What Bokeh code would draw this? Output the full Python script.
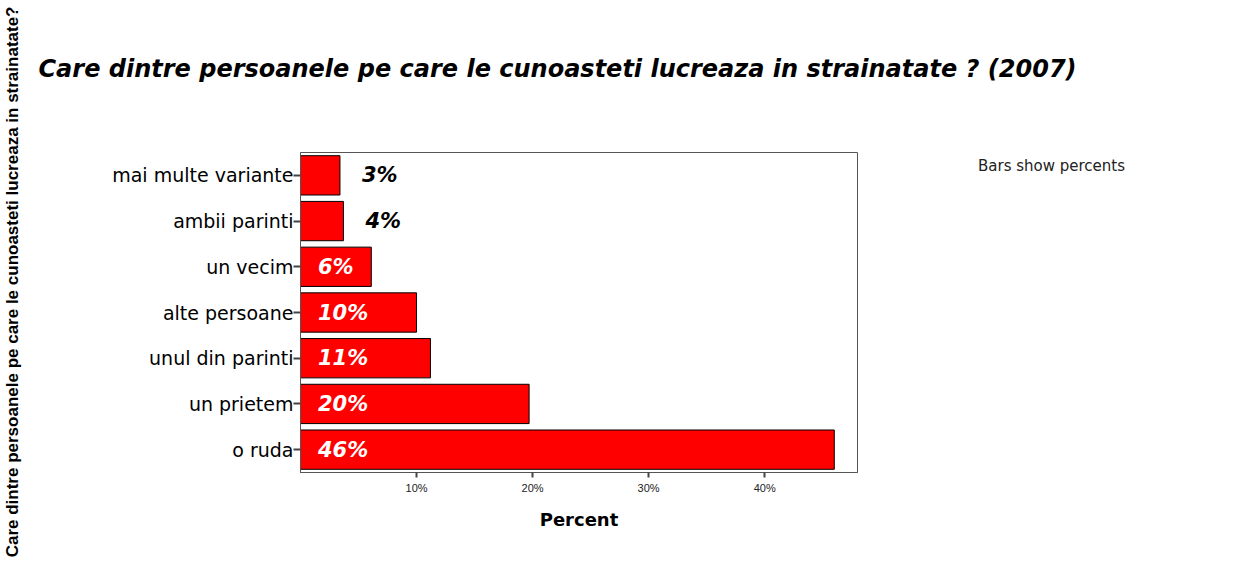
from bokeh.plotting import figure
from bokeh.models import (ColumnDataSource, FactorRange, Range1d, FixedTicker,
                          Title, Legend, LegendItem, LinearAxis, CategoricalAxis)
from bokeh.core.properties import value
from bokeh.embed import file_html
from bokeh.resources import INLINE

# ---- data ----
categories = ["o ruda", "un prietem", "unul din parinti", "alte persoane",
              "un vecim", "ambii parinti", "mai multe variante"]
percents = [46.0, 19.7, 11.2, 10.0, 6.1, 3.7, 3.4]
value_labels = ["46%", "20%", "11%", "10%", "6%", "4%", "3%"]
x_ticks = [10, 20, 30, 40]
x_tick_labels = ["10%", "20%", "30%", "40%"]

title_text = "Care dintre persoanele pe care le cunoasteti lucreaza in strainatate ? (2007)"
y_title = "Care dintre persoanele pe care le cunoasteti lucreaza in strainatate?"
note_text = "Bars show percents"
x_title = "Percent"

# label placement: inside (white) for larger bars, outside (black) for small ones
inside = [v >= 5 for v in percents]
label_x = [1.5 if ins else v + 1.9 for v, ins in zip(percents, inside)]
label_color = ["white" if ins else "black" for ins in inside]

src = ColumnDataSource(dict(cat=categories, pct=percents))
lab_src = ColumnDataSource(dict(cat=categories, x=label_x, text=value_labels, color=label_color))

p = figure(
    y_range=FactorRange(factors=categories, range_padding=0),
    x_range=Range1d(0, 48),
    frame_width=557, frame_height=320,
    min_border_left=300, min_border_right=383,
    min_border_top=152, min_border_bottom=96,
    title_location=None,
    output_backend="svg", toolbar_location=None,
)
p.outline_line_color = "#555555"
p.outline_line_width = 1
p.xgrid.visible = False
p.ygrid.visible = False
p.background_fill_color = "white"
p.border_fill_color = "white"
p.extra_x_ranges = {"space": Range1d(0, 1)}
p.extra_y_ranges = {"space": FactorRange(factors=["_"])}

p.hbar(y="cat", right="pct", height=0.86, left=0, source=src,
       fill_color="#FF0000", line_color="black", line_width=1)

p.text(x="x", y="cat", text="text", text_color="color", source=lab_src,
       text_font=value("DejaVu Sans"), text_font_style="bold italic",
       text_font_size="21px", text_align="left", text_baseline="middle")

# x axis
xa = p.xaxis[0]
xa.ticker = FixedTicker(ticks=x_ticks)
xa.major_label_overrides = {t: l for t, l in zip(x_ticks, x_tick_labels)}
xa.major_tick_in = 0
xa.major_tick_out = 5
xa.major_tick_line_width = 2
xa.major_tick_line_color = "#444444"
xa.minor_tick_line_color = None
xa.axis_line_color = "#555555"
xa.major_label_text_font = "Liberation Sans"
xa.major_label_text_font_size = "11px"
xa.major_label_text_color = "#222222"
xa.major_label_standoff = 4
xa.axis_label = x_title
xa.axis_label_text_font = "DejaVu Sans"
xa.axis_label_text_font_style = "bold"
xa.axis_label_text_font_size = "18px"
xa.axis_label_text_color = "black"
xa.axis_label_standoff = 12

# y axis
ya = p.yaxis[0]
ya.major_tick_in = 0
ya.major_tick_out = 7
ya.major_tick_line_width = 2
ya.major_tick_line_color = "#444444"
ya.axis_line_color = "#555555"
ya.major_label_text_font = "DejaVu Sans"
ya.major_label_text_font_size = "19px"
ya.major_label_text_color = "black"
ya.major_label_standoff = 0

# invisible spacer above the frame (reserves room), then the main title
p.add_layout(LinearAxis(x_range_name="space", ticker=FixedTicker(ticks=[0.5]),
                        major_label_overrides={0.5: ""}, major_label_text_font_size="0px",
                        major_label_text_color=None,
                        major_tick_out=70, major_tick_in=0, major_label_standoff=0,
                        axis_line_color=None, major_tick_line_color=None,
                        minor_tick_line_color=None), "above")
p.add_layout(Title(text=title_text, align="left", offset=-262, standoff=0,
                   text_font="DejaVu Sans", text_font_style="bold italic",
                   text_font_size="24px", text_color="black"), "above")

# invisible spacer left of the y axis, then the vertical title
p.add_layout(CategoricalAxis(y_range_name="space", major_tick_out=88, major_tick_in=0,
                             major_label_standoff=0, major_label_text_font_size="0px",
                             major_label_text_color=None,
                             major_label_overrides={"_": ""},
                             axis_line_color=None, major_tick_line_color=None,
                             minor_tick_line_color=None), "left")
p.add_layout(Title(text=y_title, align="right", offset=-146, standoff=0,
                   text_font="Liberation Sans", text_font_style="bold",
                   text_font_size="17px", text_color="black"), "left")

# note at right via a legend with an invisible glyph
dummy = p.scatter(x=[], y=[], fill_alpha=0, line_alpha=0)
legend = Legend(items=[LegendItem(label=note_text, renderers=[dummy])],
                location="top_left", margin=0, padding=4,
                glyph_width=116, glyph_height=28, label_standoff=5,
                label_text_font="DejaVu Sans", label_text_font_size="15px",
                label_text_color="#222222", border_line_color=None,
                background_fill_alpha=0)
p.add_layout(legend, "right")

open("out.html", "w").write(file_html(p, INLINE))
